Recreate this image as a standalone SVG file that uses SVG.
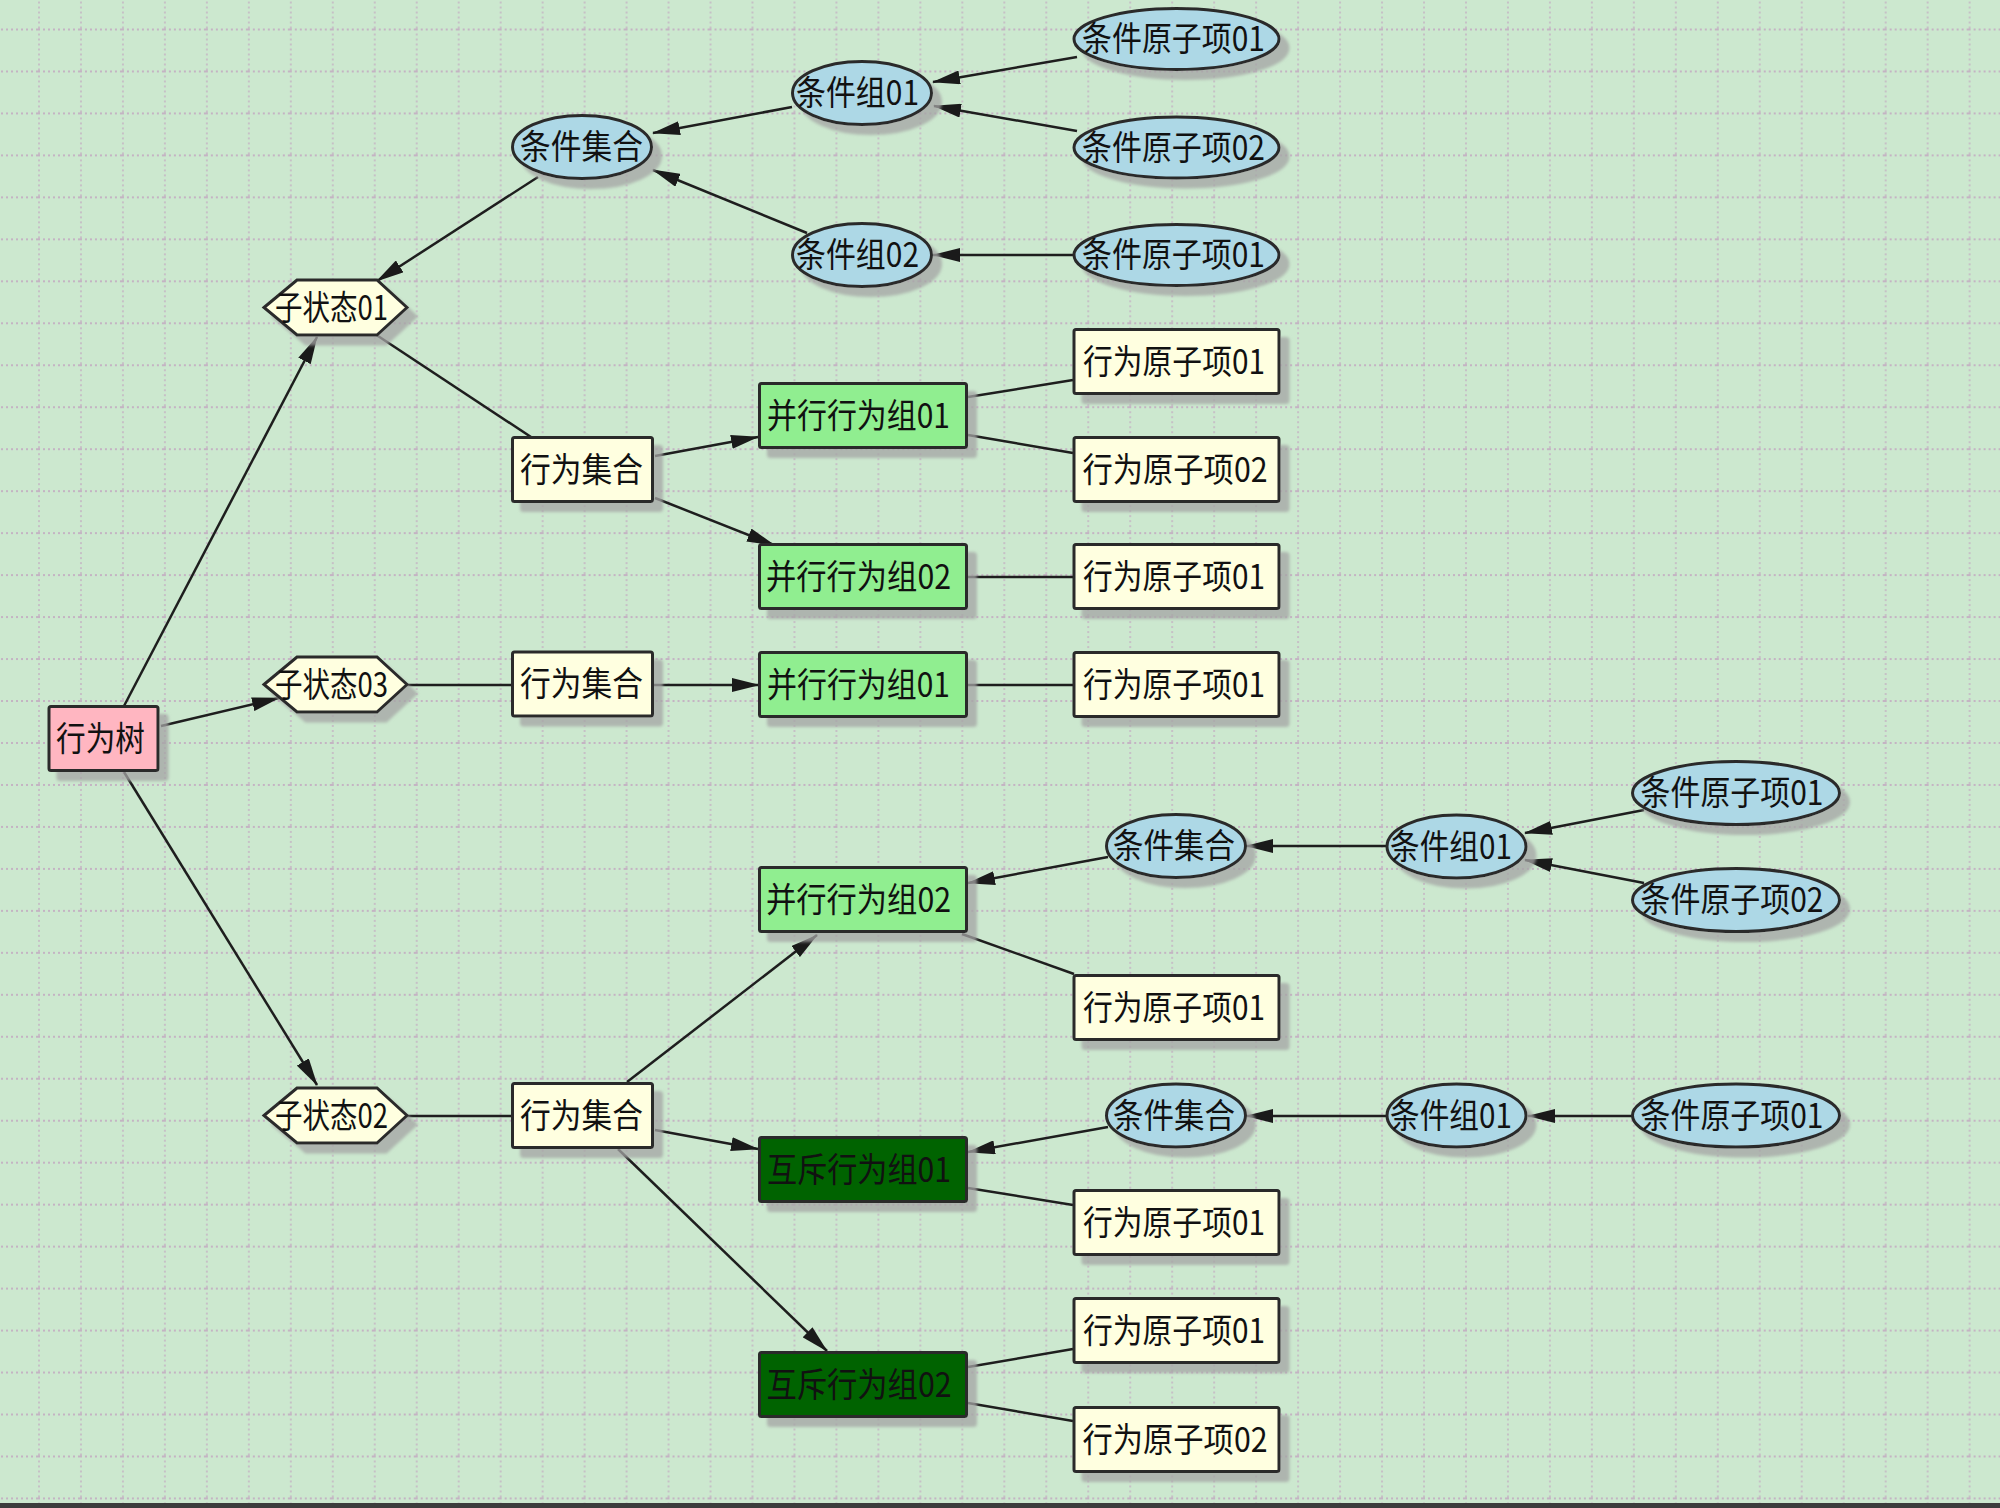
<svg xmlns="http://www.w3.org/2000/svg" width="2000" height="1508" viewBox="0 0 2000 1508">
<defs>
<pattern id="grid" x="38" y="28.5" width="41.97" height="41.97" patternUnits="userSpaceOnUse">
<line x1="0" y1="1" x2="41.97" y2="1" stroke="#c4b3c3" stroke-width="2" stroke-dasharray="2 3"/>
<line x1="1" y1="0" x2="1" y2="41.97" stroke="#c4b3c3" stroke-width="2" stroke-dasharray="2 3" opacity="0.75"/>
</pattern>
<marker id="arr" markerUnits="userSpaceOnUse" markerWidth="28" markerHeight="14" refX="27" refY="7" orient="auto" viewBox="0 0 28 14">
<path d="M0,0 L28,7 L0,14 z" fill="#1a1a1a"/>
</marker>
<filter id="sh" x="-10%" y="-10%" width="130%" height="150%">
<feDropShadow dx="9" dy="9" stdDeviation="1.5" flood-color="#a4a4a4" flood-opacity="0.75"/>
</filter>
</defs>
<style>
.n{stroke:#2b2b2b;stroke-width:3;filter:url(#sh)}
.r{fill:#FFFFE0}
.pk{fill:#FFB6C1}
.lg{fill:#90EE90}
.dg{fill:#006400}
.bl{fill:#ADD8E6}
.t{font-family:"Noto Sans CJK SC","Noto Sans",sans-serif;font-size:34px;fill:#111;text-anchor:middle}
.e{stroke:#1e1e1e;stroke-width:2.5;fill:none}
.a{marker-end:url(#arr)}
</style>
<rect x="0" y="0" width="2000" height="1508" fill="#CCE8CF"/>
<rect x="0" y="0" width="2000" height="1503" fill="url(#grid)"/>
<rect x="0" y="1503" width="2000" height="5" fill="#3c3c3c"/>

<g id="connectors">
<line class="e a" x1="124" y1="706" x2="317" y2="337"/>
<line class="e a" x1="161" y1="726" x2="279" y2="698"/>
<line class="e a" x1="124" y1="772" x2="317" y2="1085"/>
<line class="e a" x1="538" y1="177" x2="377" y2="281"/>
<line class="e" x1="375" y1="334" x2="531" y2="437"/>
<line class="e a" x1="655" y1="456" x2="758" y2="437"/>
<line class="e a" x1="655" y1="498" x2="774" y2="545"/>
<line class="e" x1="968" y1="397" x2="1073" y2="380"/>
<line class="e" x1="968" y1="435" x2="1073" y2="453"/>
<line class="e" x1="968" y1="577" x2="1073" y2="577"/>
<line class="e" x1="406" y1="685" x2="511" y2="685"/>
<line class="e a" x1="654" y1="685" x2="759" y2="685"/>
<line class="e" x1="968" y1="685" x2="1073" y2="685"/>
<line class="e a" x1="792" y1="107" x2="653" y2="133"/>
<line class="e a" x1="807" y1="233" x2="653" y2="170"/>
<line class="e a" x1="1077" y1="57" x2="933" y2="82"/>
<line class="e a" x1="1077" y1="131" x2="934" y2="106"/>
<line class="e a" x1="1074" y1="255" x2="933" y2="255"/>
<line class="e" x1="406" y1="1116" x2="511" y2="1116"/>
<line class="e a" x1="627" y1="1082" x2="817" y2="935"/>
<line class="e a" x1="655" y1="1130" x2="758" y2="1149"/>
<line class="e a" x1="618" y1="1149" x2="827" y2="1351"/>
<line class="e a" x1="1108" y1="857" x2="968" y2="883"/>
<line class="e" x1="962" y1="934" x2="1074" y2="974"/>
<line class="e a" x1="1386" y1="846" x2="1246" y2="846"/>
<line class="e a" x1="1644" y1="810" x2="1525" y2="833"/>
<line class="e a" x1="1644" y1="883" x2="1525" y2="860"/>
<line class="e a" x1="1108" y1="1127" x2="968" y2="1152"/>
<line class="e" x1="968" y1="1188" x2="1073" y2="1205"/>
<line class="e a" x1="1386" y1="1116" x2="1246" y2="1116"/>
<line class="e a" x1="1632" y1="1116" x2="1528" y2="1116"/>
<line class="e" x1="968" y1="1367" x2="1073" y2="1349"/>
<line class="e" x1="968" y1="1403" x2="1073" y2="1421"/>
</g>

<g id="n_tree"><rect class="n pk" x="49" y="706.5" width="109" height="64" rx="2"/><text class="t" x="100.5" y="750.5" textLength="89" lengthAdjust="spacingAndGlyphs">行为树</text></g>

<g id="n_sub01"><polygon class="n r" points="264,307.5 297,280 377,280 407,307.5 377,335 297,335"/><text class="t" x="331.5" y="319.5" textLength="113" lengthAdjust="spacingAndGlyphs">子状态01</text></g>
<g id="n_sub03"><polygon class="n r" points="264,684.5 297,657 377,657 407,684.5 377,712 297,712"/><text class="t" x="331.5" y="696.5" textLength="113" lengthAdjust="spacingAndGlyphs">子状态03</text></g>
<g id="n_sub02"><polygon class="n r" points="264,1115.5 297,1088 377,1088 407,1115.5 377,1143 297,1143"/><text class="t" x="331.5" y="1127.5" textLength="113" lengthAdjust="spacingAndGlyphs">子状态02</text></g>

<g id="n_actset_a"><rect class="n r" x="512.5" y="437.5" width="140" height="64" rx="2"/><text class="t" x="581.5" y="481.5" textLength="123" lengthAdjust="spacingAndGlyphs">行为集合</text></g>
<g id="n_actset_b"><rect class="n r" x="512.5" y="652" width="140" height="64" rx="2"/><text class="t" x="581.5" y="696" textLength="123" lengthAdjust="spacingAndGlyphs">行为集合</text></g>
<g id="n_actset_c"><rect class="n r" x="512.5" y="1083.5" width="140" height="64" rx="2"/><text class="t" x="581.5" y="1127.5" textLength="123" lengthAdjust="spacingAndGlyphs">行为集合</text></g>

<g id="n_condset_top"><ellipse class="n bl" cx="582" cy="147" rx="69.5" ry="31.5"/><text class="t" x="581.5" y="159" textLength="123" lengthAdjust="spacingAndGlyphs">条件集合</text></g>
<g id="n_grp01_top"><ellipse class="n bl" cx="862" cy="93" rx="69.5" ry="31.5"/><text class="t" x="857.5" y="105" textLength="123" lengthAdjust="spacingAndGlyphs">条件组01</text></g>
<g id="n_grp02_top"><ellipse class="n bl" cx="862" cy="255" rx="69.5" ry="31.5"/><text class="t" x="857.5" y="267" textLength="123" lengthAdjust="spacingAndGlyphs">条件组02</text></g>
<g id="n_catom01_a"><ellipse class="n bl" cx="1176.5" cy="39" rx="102.5" ry="30.5"/><text class="t" x="1173.5" y="51" textLength="183" lengthAdjust="spacingAndGlyphs">条件原子项01</text></g>
<g id="n_catom02_a"><ellipse class="n bl" cx="1176.5" cy="147.5" rx="102.5" ry="30.5"/><text class="t" x="1173.5" y="159.5" textLength="183" lengthAdjust="spacingAndGlyphs">条件原子项02</text></g>
<g id="n_catom01_b"><ellipse class="n bl" cx="1176.5" cy="255" rx="102.5" ry="30.5"/><text class="t" x="1173.5" y="267" textLength="183" lengthAdjust="spacingAndGlyphs">条件原子项01</text></g>

<g id="n_par01_a"><rect class="n lg" x="759.5" y="383.5" width="207" height="64" rx="2"/><text class="t" x="858.5" y="427.5" textLength="183" lengthAdjust="spacingAndGlyphs">并行行为组01</text></g>
<g id="n_par02_a"><rect class="n lg" x="759.5" y="544.5" width="207" height="64" rx="2"/><text class="t" x="858.5" y="588.5" textLength="185" lengthAdjust="spacingAndGlyphs">并行行为组02</text></g>
<g id="n_par01_b"><rect class="n lg" x="759.5" y="652.5" width="207" height="64" rx="2"/><text class="t" x="858.5" y="696.5" textLength="183" lengthAdjust="spacingAndGlyphs">并行行为组01</text></g>
<g id="n_par02_b"><rect class="n lg" x="759.5" y="867.5" width="207" height="64" rx="2"/><text class="t" x="858.5" y="911.5" textLength="185" lengthAdjust="spacingAndGlyphs">并行行为组02</text></g>
<g id="n_mut01"><rect class="n dg" x="759.5" y="1137.5" width="207" height="64" rx="2"/><text class="t" x="859" y="1181.5" textLength="184" lengthAdjust="spacingAndGlyphs">互斥行为组01</text></g>
<g id="n_mut02"><rect class="n dg" x="759.5" y="1352.5" width="207" height="64" rx="2"/><text class="t" x="859" y="1396.5" textLength="185" lengthAdjust="spacingAndGlyphs">互斥行为组02</text></g>

<g id="n_aatom01_a"><rect class="n r" x="1074" y="329.5" width="205" height="64" rx="2"/><text class="t" x="1174" y="373.5" textLength="182" lengthAdjust="spacingAndGlyphs">行为原子项01</text></g>
<g id="n_aatom02_a"><rect class="n r" x="1074" y="437.5" width="205" height="64" rx="2"/><text class="t" x="1175" y="481.5" textLength="185" lengthAdjust="spacingAndGlyphs">行为原子项02</text></g>
<g id="n_aatom01_b"><rect class="n r" x="1074" y="544.5" width="205" height="64" rx="2"/><text class="t" x="1174" y="588.5" textLength="182" lengthAdjust="spacingAndGlyphs">行为原子项01</text></g>
<g id="n_aatom01_c"><rect class="n r" x="1074" y="652.5" width="205" height="64" rx="2"/><text class="t" x="1174" y="696.5" textLength="182" lengthAdjust="spacingAndGlyphs">行为原子项01</text></g>
<g id="n_aatom01_d"><rect class="n r" x="1074" y="975.5" width="205" height="64" rx="2"/><text class="t" x="1174" y="1019.5" textLength="182" lengthAdjust="spacingAndGlyphs">行为原子项01</text></g>
<g id="n_aatom01_e"><rect class="n r" x="1074" y="1190.5" width="205" height="64" rx="2"/><text class="t" x="1174" y="1234.5" textLength="182" lengthAdjust="spacingAndGlyphs">行为原子项01</text></g>
<g id="n_aatom01_f"><rect class="n r" x="1074" y="1298.5" width="205" height="64" rx="2"/><text class="t" x="1174" y="1342.5" textLength="182" lengthAdjust="spacingAndGlyphs">行为原子项01</text></g>
<g id="n_aatom02_g"><rect class="n r" x="1074" y="1407.5" width="205" height="64" rx="2"/><text class="t" x="1175" y="1451.5" textLength="185" lengthAdjust="spacingAndGlyphs">行为原子项02</text></g>

<g id="n_condset_b1"><ellipse class="n bl" cx="1176" cy="846" rx="69.5" ry="31.5"/><text class="t" x="1174" y="858" textLength="122" lengthAdjust="spacingAndGlyphs">条件集合</text></g>
<g id="n_grp01_b1"><ellipse class="n bl" cx="1456.5" cy="846.5" rx="69.5" ry="31.5"/><text class="t" x="1451" y="858.5" textLength="122" lengthAdjust="spacingAndGlyphs">条件组01</text></g>
<g id="n_catom01_b1"><ellipse class="n bl" cx="1736" cy="793" rx="103.5" ry="31.5"/><text class="t" x="1732" y="805" textLength="183" lengthAdjust="spacingAndGlyphs">条件原子项01</text></g>
<g id="n_catom02_b1"><ellipse class="n bl" cx="1736" cy="900" rx="103.5" ry="31.5"/><text class="t" x="1732" y="912" textLength="183" lengthAdjust="spacingAndGlyphs">条件原子项02</text></g>
<g id="n_condset_b2"><ellipse class="n bl" cx="1176" cy="1115.5" rx="69.5" ry="31.5"/><text class="t" x="1174" y="1127.5" textLength="122" lengthAdjust="spacingAndGlyphs">条件集合</text></g>
<g id="n_grp01_b2"><ellipse class="n bl" cx="1456.5" cy="1115.5" rx="69.5" ry="31.5"/><text class="t" x="1451" y="1127.5" textLength="122" lengthAdjust="spacingAndGlyphs">条件组01</text></g>
<g id="n_catom01_b2"><ellipse class="n bl" cx="1736" cy="1115.5" rx="103.5" ry="31.5"/><text class="t" x="1732" y="1127.5" textLength="183" lengthAdjust="spacingAndGlyphs">条件原子项01</text></g>
</svg>
